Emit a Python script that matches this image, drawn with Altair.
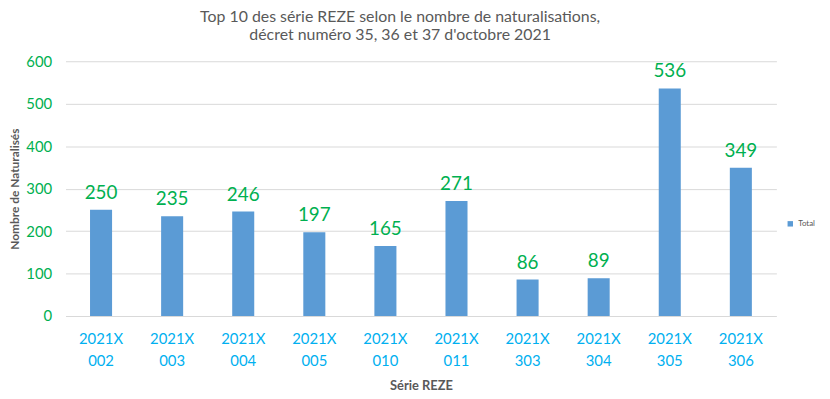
import altair as alt
import pandas as pd

categories = ["2021X 002", "2021X 003", "2021X 004", "2021X 005", "2021X 010",
              "2021X 011", "2021X 303", "2021X 304", "2021X 305", "2021X 306"]
values = [250, 235, 246, 197, 165, 271, 86, 89, 536, 349]
series = ["Total"] * len(categories)
y_ticks = [0, 100, 200, 300, 400, 500, 600]

df = pd.DataFrame({"serie": categories, "nombre": values, "series": series})

FONT = "Lato"
GREEN = "#00B050"
CYAN = "#00B0F0"
GREY = "#595959"

base = alt.Chart(df)

bars = base.mark_bar(color="#5B9BD5").encode(
    x=alt.X("serie:N", sort=categories,
            scale=alt.Scale(paddingInner=0.69, paddingOuter=0.345),
            axis=alt.Axis(title="Série REZE", labelAngle=0,
                          labelExpr="split(datum.label, ' ')",
                          labelColor=CYAN, labelFontSize=15, labelFont=FONT,
                          labelLineHeight=22, labelPadding=16,
                          ticks=False, domain=False,
                          titleFont=FONT, titleFontSize=13, titleFontWeight="bold",
                          titleColor=GREY, titleY=70, titleBaseline="middle")),
    y=alt.Y("nombre:Q", scale=alt.Scale(domain=[0, 600], nice=False),
            axis=alt.Axis(title="Nombre de Naturalisés", values=y_ticks,
                          labelColor=GREEN, labelFontSize=15, labelFont=FONT,
                          labelPadding=14, ticks=False, domain=False,
                          gridColor="#D9D9D9", gridWidth=1,
                          titleFont=FONT, titleFontSize=12, titleFontWeight="bold",
                          titleColor=GREY, titleX=-44, titleY=128.5)),
    color=alt.Color("series:N", scale=alt.Scale(range=["#5B9BD5"]),
                    legend=alt.Legend(title=None, orient="none", legendX=727, legendY=160,
                                      symbolType="square", symbolSize=30,
                                      labelFontSize=8, labelColor=GREY, labelFont=FONT)),
)

labels = base.mark_text(baseline="bottom", dy=-7, fontSize=19, color=GREEN, font=FONT).encode(
    x=alt.X("serie:N", sort=categories),
    y="nombre:Q",
    text="nombre:Q",
)

chart = (bars + labels).properties(
    width=717,
    height=257,
    title=alt.TitleParams(
        ["Top 10 des série REZE selon le nombre de naturalisations,",
         "décret numéro 35, 36 et 37 d'octobre 2021"],
        font=FONT, fontSize=16, fontWeight="normal", color=GREY,
        anchor="middle", dx=-21, lineHeight=19, offset=11),
    autosize=alt.AutoSizeParams(type="none"),
    padding={"left": 58, "top": 52, "right": 46, "bottom": 82},
).configure_view(stroke=None)

chart.save("out.html", embed_options={"renderer": "svg", "actions": False})
